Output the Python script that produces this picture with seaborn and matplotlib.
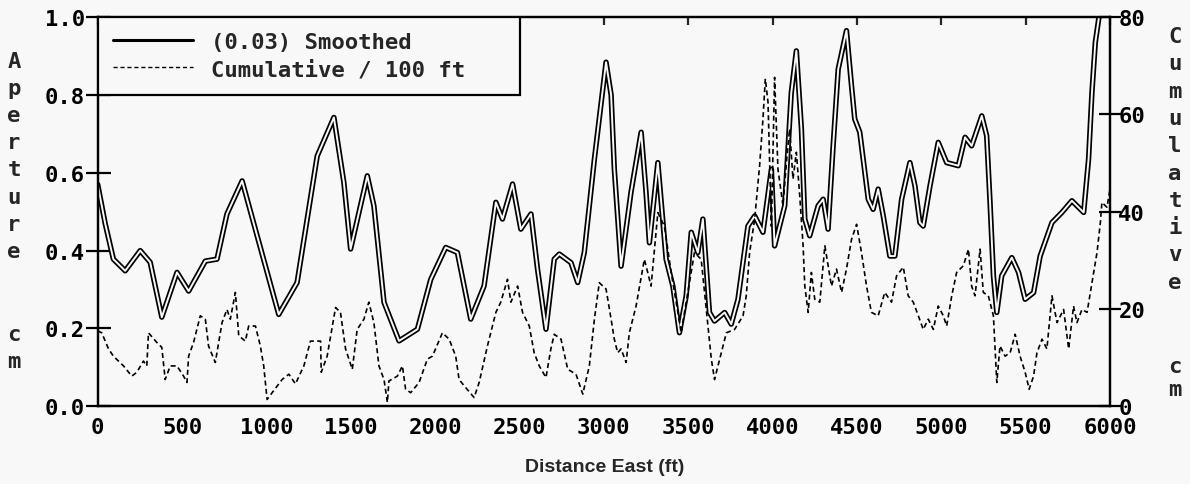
import numpy as np
import pandas as pd
import seaborn as sns
import matplotlib
matplotlib.use("Agg")
import matplotlib.pyplot as plt
from matplotlib.lines import Line2D
from matplotlib.patches import Rectangle

# ---- data ----
smooth_ft = [0, 44, 93, 163, 252, 311, 380, 470, 539, 638, 707, 766, 856, 945, 1073, 1182,
             1301, 1400, 1459, 1499, 1598, 1637, 1697, 1786, 1895, 1974, 2063, 2132, 2211,
             2290, 2360, 2399, 2459, 2508, 2568, 2607, 2657, 2706, 2736, 2805, 2845, 2884,
             2944, 3013, 3043, 3062, 3102, 3161, 3221, 3250, 3270, 3320, 3369, 3409, 3448,
             3488, 3518, 3557, 3587, 3626, 3656, 3716, 3755, 3795, 3854, 3894, 3943, 3993,
             4012, 4072, 4111, 4141, 4171, 4191, 4220, 4270, 4300, 4329, 4359, 4389, 4438,
             4468, 4487, 4517, 4567, 4596, 4626, 4656, 4695, 4725, 4765, 4814, 4844, 4873,
             4893, 4933, 4982, 5032, 5101, 5141, 5180, 5240, 5269, 5289, 5309, 5329, 5358,
             5418, 5458, 5497, 5547, 5586, 5656, 5715, 5774, 5844, 5873, 5893, 5913, 5933, 5960]
smooth_ap = [0.57, 0.47, 0.378, 0.348, 0.40, 0.37, 0.229, 0.344, 0.296, 0.373, 0.378, 0.494,
             0.579, 0.438, 0.236, 0.318, 0.643, 0.742, 0.575, 0.404, 0.592, 0.515, 0.267,
             0.168, 0.198, 0.326, 0.408, 0.395, 0.224, 0.309, 0.524, 0.481, 0.571, 0.455,
             0.494, 0.352, 0.198, 0.378, 0.391, 0.369, 0.318, 0.395, 0.635, 0.884, 0.80,
             0.61, 0.36, 0.55, 0.704, 0.55, 0.42, 0.626, 0.378, 0.309, 0.189, 0.284, 0.447,
             0.395, 0.481, 0.241, 0.219, 0.241, 0.211, 0.275, 0.463, 0.489, 0.447, 0.609,
             0.412, 0.515, 0.806, 0.913, 0.712, 0.481, 0.438, 0.515, 0.532, 0.455, 0.669,
             0.866, 0.965, 0.823, 0.738, 0.704, 0.532, 0.506, 0.558, 0.489, 0.386, 0.386,
             0.532, 0.626, 0.566, 0.472, 0.463, 0.566, 0.678, 0.626, 0.618, 0.691, 0.669,
             0.746, 0.695, 0.524, 0.335, 0.241, 0.335, 0.382, 0.344, 0.275, 0.292, 0.386,
             0.472, 0.498, 0.528, 0.498, 0.635, 0.806, 0.935, 0.995, 1.06]

cum_ft = [0, 24, 64, 93, 153, 202, 232, 271, 291, 301, 351, 380, 400, 430, 470, 509, 529, 539,
          568, 608, 638, 657, 697, 737, 766, 786, 816, 836, 875, 895, 935, 964, 984, 1004,
          1034, 1093, 1133, 1172, 1222, 1261, 1321, 1325, 1360, 1410, 1439, 1469, 1509, 1538,
          1578, 1607, 1637, 1667, 1697, 1717, 1726, 1776, 1806, 1825, 1855, 1905, 1954, 1984,
          2043, 2083, 2122, 2142, 2182, 2231, 2261, 2310, 2360, 2389, 2429, 2449, 2489, 2518,
          2558, 2587, 2617, 2657, 2686, 2706, 2746, 2786, 2835, 2875, 2914, 2944, 2973, 3013,
          3043, 3062, 3082, 3102, 3132, 3151, 3191, 3240, 3260, 3280, 3320, 3359, 3399, 3439,
          3458, 3498, 3537, 3577, 3617, 3637, 3656, 3696, 3726, 3775, 3825, 3844, 3864, 3894,
          3923, 3943, 3957, 3973, 3993, 4012, 4032, 4062, 4082, 4101, 4121, 4141, 4161, 4181,
          4191, 4211, 4230, 4250, 4280, 4310, 4349, 4379, 4409, 4438, 4468, 4498, 4527, 4557,
          4586, 4626, 4665, 4705, 4735, 4775, 4804, 4834, 4864, 4893, 4923, 4953, 4982, 5012,
          5032, 5062, 5091, 5131, 5161, 5180, 5200, 5230, 5249, 5279, 5309, 5319, 5329, 5348,
          5378, 5408, 5438, 5467, 5497, 5521, 5547, 5567, 5597, 5626, 5656, 5686, 5725, 5755,
          5784, 5804, 5834, 5864, 5893, 5923, 5943, 5952, 5982, 6000]
cum_cm = [15.5, 15.1, 11.8, 10.3, 8.3, 6.2, 7.0, 9.3, 8.3, 15.1, 13.1, 12.1, 5.5, 8.3, 8.3, 6.2,
          4.9, 10.3, 13.1, 18.6, 17.9, 12.4, 9.0, 17.2, 19.9, 17.9, 23.4, 14.5, 13.4, 16.5,
          16.5, 12.4, 8.3, 1.4, 2.8, 5.5, 6.6, 4.6, 8.3, 13.4, 13.4, 7.0, 10.3, 20.3, 19.3,
          11.8, 7.6, 15.8, 17.9, 21.4, 17.2, 8.3, 5.5, 0.8, 5.2, 6.2, 8.3, 3.5, 2.8, 4.9, 9.7,
          10.3, 15.1, 13.8, 10.3, 5.5, 3.8, 1.8, 4.9, 12.4, 19.3, 21.4, 26.1, 21.4, 24.7, 19.3,
          16.5, 11.0, 8.3, 5.9, 11.8, 14.8, 13.8, 7.6, 6.6, 2.5, 8.3, 17.9, 25.4, 24.1, 17.9,
          13.8, 11.0, 11.8, 9.0, 15.1, 20.6, 30.2, 27.5, 24.7, 39.8, 37.0, 27.5, 19.3, 15.1,
          23.4, 31.6, 30.2, 16.5, 9.7, 5.5, 11.0, 15.1, 15.8, 18.6, 22.7, 31.6, 38.5, 49.4,
          59.0, 67.3, 62.5, 37.0, 67.6, 48.7, 41.2, 50.1, 57.0, 46.7, 52.2, 43.3, 33.0, 24.7,
          19.3, 27.5, 22.0, 21.4, 33.0, 24.7, 28.2, 23.4, 28.2, 34.3, 37.4, 31.6, 24.7, 19.3,
          18.6, 23.4, 21.4, 26.8, 28.6, 22.7, 21.4, 18.6, 15.8, 17.9, 15.8, 20.6, 18.6, 16.5,
          22.7, 27.5, 28.9, 32.3, 24.7, 22.7, 32.3, 23.4, 22.7, 18.6, 11.8, 4.9, 12.4, 10.3,
          11.0, 14.8, 10.3, 7.0, 3.5, 6.2, 11.0, 13.8, 11.8, 22.7, 17.2, 19.9, 11.8, 20.6,
          17.2, 19.9, 19.3, 25.4, 31.6, 37.8, 41.9, 40.9, 44.6]

x_ticks = [0, 500, 1000, 1500, 2000, 2500, 3000, 3500, 4000, 4500, 5000, 5500, 6000]
left_ticks = [0.0, 0.2, 0.4, 0.6, 0.8, 1.0]
right_ticks = [0, 20, 40, 60, 80]
legend_labels = ["(0.03) Smoothed", "Cumulative / 100 ft"]
xlabel = "Distance East (ft)"
left_label = "Aperture"
right_label = "Cumulative"
unit_label = "cm"

# ---- style ----
sns.set_style("white")
BG = "#f8f8f8"
MONO = ["DejaVu Sans Mono"]
plt.rcParams["font.family"] = MONO
plt.rcParams["font.weight"] = "bold"
FS = 16

W, H = 1190, 485
fig = plt.figure(figsize=(W / 100, H / 100), dpi=100, facecolor=BG)
L, R, T, B = 97.7, 1110, 18, 407.3
ax = fig.add_axes([L / W, 1 - B / H, (R - L) / W, (B - T) / H])
ax.set_facecolor(BG)
ax2 = ax.twinx()

df_s = pd.DataFrame({"ft": smooth_ft, "ap": smooth_ap})
df_c = pd.DataFrame({"ft": cum_ft, "cm": cum_cm})

# hollow double line for smoothed
sns.lineplot(data=df_s, x="ft", y="ap", ax=ax, color="black", lw=3.9, sort=False,
             estimator=None)
sns.lineplot(data=df_s, x="ft", y="ap", ax=ax, color=BG, lw=1.4, sort=False,
             estimator=None)
sns.lineplot(data=df_c, x="ft", y="cm", ax=ax2, color="black", lw=1.2, sort=False,
             estimator=None, linestyle=(0, (3, 2)))

ax.set_xlim(0, 6000)
ax.set_ylim(0, 1.0)
ax2.set_ylim(0, 80)
ax.set_xlabel("")
ax.set_ylabel("")
ax2.set_ylabel("")

ax.set_xticks(x_ticks)
ax.set_xticklabels([str(t) for t in x_ticks])
ax.set_yticks(left_ticks)
ax.set_yticklabels([f"{t:.1f}" for t in left_ticks])
ax2.set_yticks(right_ticks)
ax2.set_yticklabels([str(t) for t in right_ticks])

for a in (ax, ax2):
    for s in a.spines.values():
        s.set_visible(True)
        s.set_linewidth(1.6)
        s.set_color("black")

tkw = dict(labelsize=FS, colors="black", width=1.6)
ax.tick_params(axis="x", direction="inout", length=12, pad=1.5, **tkw)
ax.tick_params(axis="y", direction="inout", length=18, pad=0, **tkw)
ax2.tick_params(axis="y", direction="inout", length=16, pad=-2, **tkw)

# short inward ticks on the top frame
top = ax.secondary_xaxis("top")
top.set_xticks(x_ticks)
top.tick_params(axis="x", direction="in", length=6, width=1.6, labeltop=False)
for s in top.spines.values():
    s.set_visible(False)

for lab in ax.get_xticklabels() + ax.get_yticklabels() + ax2.get_yticklabels():
    lab.set_fontweight("bold")
    lab.set_family(MONO)
# the right-axis "0" sits on the frame corner, just above the "6000"
ax2.get_yticklabels()[0].set_verticalalignment("center_baseline")

# legend box (frame spans to the 0.8 level) and entries
frame = Rectangle((0, 0.8), (520 - L) / (R - L), 0.2, transform=ax2.transAxes,
                  facecolor=BG, edgecolor="black", lw=1.6, zorder=5)
ax2.add_patch(frame)
handles = [Line2D([], [], color="black", lw=2.2),
           Line2D([], [], color="black", lw=1.0, linestyle=(0, (3, 2)))]
leg = ax2.legend(handles, legend_labels, loc="upper left",
                 bbox_to_anchor=((113 - L) / (R - L), 1 - (33 - T) / (B - T)),
                 borderaxespad=0, borderpad=0, frameon=False, handlelength=3.6,
                 handletextpad=0.8, labelspacing=0.32,
                 prop={"family": MONO, "weight": "bold", "size": FS})
leg.set_zorder(6)

# axis labels (stacked letters)
def stack(xpx, ytop, text, step):
    for i, ch in enumerate(text):
        fig.text(xpx / W, 1 - (ytop + i * step) / H, ch, ha="center", va="center",
                 fontsize=FS, fontweight="bold", family=MONO)

stack(14, 62, left_label, 27.1)
stack(14, 335, unit_label, 27)
stack(1175, 37, right_label, 27.3)
stack(1175, 367, unit_label, 23)

fig.text(605 / W, 1 - 468 / H, xlabel, ha="center", va="center", fontsize=14,
         fontweight="bold", family=["Liberation Sans", "DejaVu Sans"])

fig.savefig("out.png", dpi=100, facecolor=BG)
